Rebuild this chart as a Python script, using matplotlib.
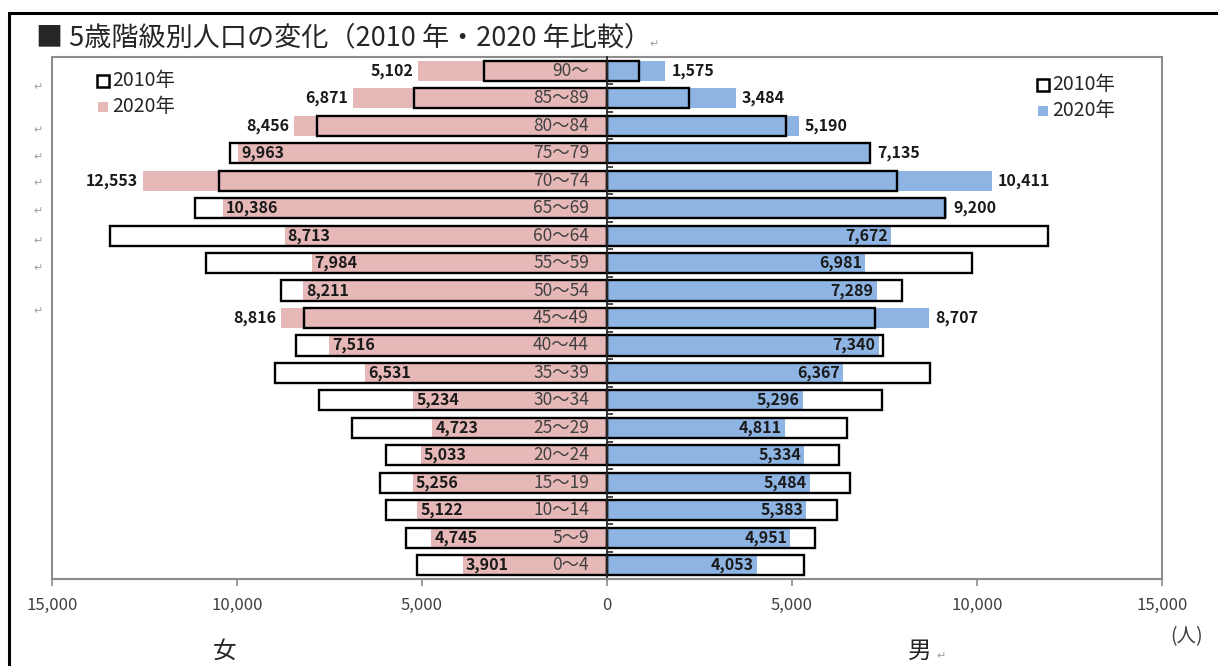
import matplotlib

matplotlib.use("Agg")
import matplotlib.pyplot as plt
from matplotlib.patches import Rectangle

W, H = 1218, 666
plt.rcParams["font.family"] = ["Noto Sans CJK JP", "DejaVu Sans"]

PINK = "#E6B8B7"
BLUE = "#8DB4E2"
GRAY = "#8C8C8C"
TXT = "#404040"

# bottom (0～4) to top (90～)
AGES = ["0～4", "5～9", "10～14", "15～19", "20～24", "25～29", "30～34",
        "35～39", "40～44", "45～49", "50～54", "55～59", "60～64",
        "65～69", "70～74", "75～79", "80～84", "85～89", "90～"]
F2020 = [3901, 4745, 5122, 5256, 5033, 4723, 5234, 6531, 7516, 8816,
         8211, 7984, 8713, 10386, 12553, 9963, 8456, 6871, 5102]
M2020 = [4053, 4951, 5383, 5484, 5334, 4811, 5296, 6367, 7340, 8707,
         7289, 6981, 7672, 9200, 10411, 7135, 5190, 3484, 1575]
# 2010 values (no labels in the picture)
F2010 = [5140, 5430, 5970, 6140, 5970, 6890, 7780, 8970, 8400, 8190,
         8810, 10840, 13430, 11140, 10490, 10190, 7840, 5220, 3320]
M2010 = [5320, 5620, 6220, 6570, 6270, 6490, 7430, 8730, 7460, 7240,
         7970, 9870, 11920, 9140, 7840, 7110, 4840, 2220, 860]
XTICKS = [-15000, -10000, -5000, 0, 5000, 10000, 15000]


def fx(px):
    return px / W


def fy(py):
    return 1 - py / H


def pt(px):
    return px * 0.72


fig = plt.figure(figsize=(W / 100, H / 100), dpi=100, facecolor="white")
ax = fig.add_axes([fx(52), fy(579), fx(1162) - fx(52), fy(57) - fy(579)])

y = list(range(len(AGES)))
bh = 0.73
ax.barh(y, [-v for v in F2020], height=bh, color=PINK, zorder=1)
ax.barh(y, M2020, height=bh, color=BLUE, zorder=1)
ax.barh(y, [-v for v in F2010], height=bh, fill=False, edgecolor="black",
        linewidth=1.7, zorder=2)
ax.barh(y, M2010, height=bh, fill=False, edgecolor="black",
        linewidth=1.7, zorder=2)

lab = dict(fontsize=11.5, weight="bold", color="#1a1a1a", va="center",
           textcoords="offset points", zorder=5)
for i in y:
    f, m = F2020[i], M2020[i]
    if f > F2010[i]:
        ax.annotate(f"{f:,}", (-f, i), xytext=(pt(-5), 0), ha="right", **lab)
    else:
        ax.annotate(f"{f:,}", (-f, i), xytext=(pt(3), 0), ha="left", **lab)
    if m > M2010[i]:
        ax.annotate(f"{m:,}", (m, i), xytext=(pt(6), 0), ha="left", **lab)
    else:
        ax.annotate(f"{m:,}", (m, i), xytext=(pt(-3), 0), ha="right", **lab)
    ax.annotate(AGES[i], (0, i), xytext=(pt(-18), 0), ha="right", va="center",
                textcoords="offset points", fontsize=12.5, color=TXT, zorder=5)

ax.set_xlim(-15000, 15000)
ax.set_ylim(-0.5, len(AGES) - 0.5)
ax.set_xticks(XTICKS)
ax.set_xticklabels([f"{abs(v):,}" for v in XTICKS], fontsize=12, color=TXT)
ax.tick_params(axis="x", direction="out", length=pt(7), width=1.2,
               color=GRAY, pad=pt(11))

# vertical axis at zero
ax.spines["left"].set_position(("data", 0))
ax.spines["left"].set_color("#262626")
ax.spines["left"].set_linewidth(1.3)
ax.set_yticks([i + 0.5 for i in y[:-1]])
ax.set_yticklabels([])
ax.tick_params(axis="y", direction="in", length=pt(6), width=1.2,
               color="#262626")
for s in ("top", "right"):
    ax.spines[s].set_visible(False)
ax.spines["bottom"].set_color(GRAY)
ax.spines["bottom"].set_linewidth(1.5)
ax.add_patch(Rectangle((0, 0), 1, 1, transform=ax.transAxes, fill=False,
                       edgecolor=GRAY, linewidth=1.5, clip_on=False, zorder=0))

# outer frame
fig.patches.append(Rectangle((fx(9), fy(700)), fx(1300), fy(13) - fy(700),
                             transform=fig.transFigure, fill=False,
                             edgecolor="black", linewidth=2.2))

fig.text(fx(36), fy(38), "■ 5歳階級別人口の変化（2010 年・2020 年比較）",
         fontsize=19.5, color="#262626", va="center", ha="left")

# legends
def legend(x0, y0, color):
    fig.patches.append(Rectangle((fx(x0), fy(y0 + 6)), fx(12), fy(0) - fy(12),
                                 transform=fig.transFigure, facecolor="white",
                                 edgecolor="black", linewidth=1.8))
    fig.text(fx(x0 + 15), fy(y0), "2010年", fontsize=14, color="#262626",
             va="center", ha="left")
    fig.patches.append(Rectangle((fx(x0 + 1), fy(y0 + 31)), fx(10),
                                 fy(0) - fy(10), transform=fig.transFigure,
                                 facecolor=color, edgecolor="none"))
    fig.text(fx(x0 + 15), fy(y0 + 25), "2020年", fontsize=14, color="#262626",
             va="center", ha="left")


legend(97, 81, PINK)
legend(1037, 85, BLUE)

fig.text(fx(225), fy(651), "女", fontsize=17, color="#262626",
         ha="center", va="center")
fig.text(fx(920), fy(651), "男", fontsize=17, color="#262626",
         ha="center", va="center")
fig.text(fx(1187), fy(637), "(人)", fontsize=14, color=TXT,
         ha="center", va="center")

# word-processor return marks
RET = "↵"
for yy in [87, 130, 157, 183, 211, 241, 268, 311]:
    fig.text(fx(38), fy(yy), RET, fontsize=8, color="#a0a0a0",
             ha="center", va="center")
fig.text(fx(654), fy(44), RET, fontsize=8, color="#a0a0a0", ha="center",
         va="center")
fig.text(fx(941), fy(656), RET, fontsize=8, color="#a0a0a0", ha="center",
         va="center")

fig.savefig("out.png", dpi=100, facecolor="white")
